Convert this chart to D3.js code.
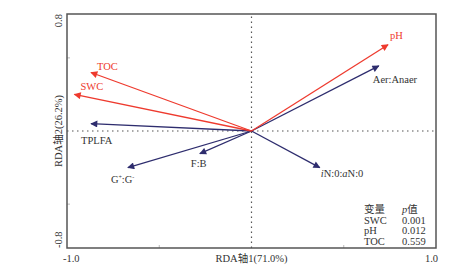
<!DOCTYPE html>
<html>
<head>
<meta charset="utf-8">
<script src="https://cdn.jsdelivr.net/npm/d3@7"></script>
<style>
  body { margin: 0; background: #fff; }
</style>
</head>
<body>
<div id="chart"></div>
<script>
// environment variables (red) and microbial indices (navy)
const envNames = ["pH", "TOC", "SWC"];
const envX = [0.74, -0.87, -0.96];
const envY = [0.59, 0.40, 0.25];

const bioNames = ["Aer:Anaer", "TPLFA", "G+:G-", "F:B", "iN:0:aN:0"];
const bioX = [0.69, -0.87, -0.67, -0.28, 0.37];
const bioY = [0.445, 0.05, -0.25, -0.155, -0.25];

const xTicks = [-0.5, 0.5];
const yTicks = [-0.5, 0.5];

const legendVars = ["SWC", "pH", "TOC"];
const legendP = ["0.001", "0.012", "0.559"];

const RED = "#ee3a2e";
const NAVY = "#2e2d6e";
const FONT = "'Liberation Serif', 'DejaVu Serif', 'Noto Sans CJK SC', serif";

var width = 449, height = 271;
var margin = { top: 14, right: 13, bottom: 23, left: 67 };

var svg = d3.select("#chart").append("svg")
  .attr("width", width)
  .attr("height", height)
  .style("font-family", FONT);

var x = d3.scaleLinear().domain([-1, 1]).range([margin.left, width - margin.right]);
var y = d3.scaleLinear().domain([-0.8, 0.8]).range([height - margin.bottom, margin.top]);

var defs = svg.append("defs");
function addMarker(id, color) {
  defs.append("marker")
    .attr("id", id)
    .attr("viewBox", "0 0 10 10")
    .attr("refX", 9)
    .attr("refY", 5)
    .attr("markerWidth", 9)
    .attr("markerHeight", 7)
    .attr("markerUnits", "userSpaceOnUse")
    .attr("orient", "auto")
    .append("path")
    .attr("d", "M0,0 L10,5 L0,10 Z")
    .attr("fill", color);
}
addMarker("arr-red", RED);
addMarker("arr-navy", NAVY);

// inner ticks
var tickG = svg.append("g").attr("stroke", "#bbb").attr("stroke-width", 1);
tickG.selectAll("line.xt").data(xTicks).enter().append("line")
  .attr("x1", d => x(d)).attr("x2", d => x(d))
  .attr("y1", y(-0.8)).attr("y2", y(-0.8) - 3);
tickG.selectAll("line.yt").data(yTicks).enter().append("line")
  .attr("x1", x(-1)).attr("x2", x(-1) + 3)
  .attr("y1", d => y(d)).attr("y2", d => y(d));

// dotted zero lines
svg.append("line")
  .attr("x1", x(-1)).attr("x2", x(1))
  .attr("y1", y(0)).attr("y2", y(0))
  .attr("stroke", "#555").attr("stroke-width", 1.2)
  .attr("stroke-dasharray", "1.5,3.5");
svg.append("line")
  .attr("x1", x(0)).attr("x2", x(0))
  .attr("y1", y(-0.8)).attr("y2", y(0.8))
  .attr("stroke", "#555").attr("stroke-width", 1.2)
  .attr("stroke-dasharray", "1.5,3.5");

// arrows
svg.selectAll("line.bio").data(bioNames).enter().append("line")
  .attr("x1", x(0)).attr("y1", y(0))
  .attr("x2", (d, i) => x(bioX[i])).attr("y2", (d, i) => y(bioY[i]))
  .attr("stroke", NAVY).attr("stroke-width", 1.3)
  .attr("marker-end", "url(#arr-navy)");
svg.selectAll("line.env").data(envNames).enter().append("line")
  .attr("x1", x(0)).attr("y1", y(0))
  .attr("x2", (d, i) => x(envX[i])).attr("y2", (d, i) => y(envY[i]))
  .attr("stroke", RED).attr("stroke-width", 1.3)
  .attr("marker-end", "url(#arr-red)");

// labels (offsets from arrow tips)
var envOff = { "pH": [2, -6], "TOC": [6, -3], "SWC": [6, -4] };
svg.selectAll("text.env").data(envNames).enter().append("text")
  .attr("x", (d, i) => x(envX[i]) + envOff[d][0])
  .attr("y", (d, i) => y(envY[i]) + envOff[d][1])
  .attr("font-size", 10.5).attr("fill", RED)
  .text(d => d);

var bioOff = { "Aer:Anaer": [-6, 17], "TPLFA": [-10, 20], "G+:G-": [-17, 15], "F:B": [-9, 13], "iN:0:aN:0": [1, 9] };
var bioText = svg.selectAll("text.bio").data(bioNames).enter().append("text")
  .attr("x", (d, i) => x(bioX[i]) + bioOff[d][0])
  .attr("y", (d, i) => y(bioY[i]) + bioOff[d][1])
  .attr("font-size", 10.5).attr("fill", "#333");
bioText.each(function (d) {
  var t = d3.select(this);
  if (d === "G+:G-") {
    t.append("tspan").text("G");
    t.append("tspan").attr("font-size", 6).attr("dy", -4).text("+");
    t.append("tspan").attr("dy", 4).text(":G");
    t.append("tspan").attr("font-size", 6).attr("dy", -4).text("-");
  } else if (d === "iN:0:aN:0") {
    t.append("tspan").attr("font-style", "italic").text("i");
    t.append("tspan").text("N:0:");
    t.append("tspan").attr("font-style", "italic").text("a");
    t.append("tspan").text("N:0");
  } else {
    t.text(d);
  }
});

// frame
svg.append("rect")
  .attr("x", x(-1)).attr("y", y(0.8))
  .attr("width", x(1) - x(-1)).attr("height", y(-0.8) - y(0.8))
  .attr("fill", "none").attr("stroke", "#555").attr("stroke-width", 1.5);

// axis labels
var axisCol = "#333";
svg.append("text").attr("x", x(-1) - 4).attr("y", height - 9)
  .attr("font-size", 10.5).attr("fill", axisCol).text("-1.0");
svg.append("text").attr("x", x(1) + 2).attr("y", height - 9)
  .attr("text-anchor", "end").attr("font-size", 10.5).attr("fill", axisCol).text("1.0");
svg.append("text").attr("x", x(0)).attr("y", height - 9)
  .attr("text-anchor", "middle").attr("font-size", 10.5).attr("fill", axisCol).text("RDA轴1(71.0%)");

var yl = x(-1) - 5;
svg.append("text").attr("transform", `translate(${yl},${y(0.8)}) rotate(-90)`)
  .attr("text-anchor", "end").attr("font-size", 10.5).attr("fill", axisCol).text("0.8");
svg.append("text").attr("transform", `translate(${yl},${y(-0.8)}) rotate(-90)`)
  .attr("text-anchor", "start").attr("font-size", 10.5).attr("fill", axisCol).text("-0.8");
svg.append("text").attr("transform", `translate(${yl},${y(0)}) rotate(-90)`)
  .attr("text-anchor", "middle").attr("font-size", 10.5).attr("fill", axisCol).text("RDA轴2(26.2%)");

// significance table
var lg = svg.append("g").attr("font-size", 10.5).attr("fill", "#333");
var lx1 = 364, lx2 = 402, ly0 = 213, lstep = 10.7;
lg.append("text").attr("x", lx1).attr("y", ly0).text("变量");
var ph = lg.append("text").attr("x", lx2).attr("y", ly0);
ph.append("tspan").attr("font-style", "italic").text("p");
ph.append("tspan").text("值");
lg.selectAll("text.v").data(legendVars).enter().append("text")
  .attr("x", lx1).attr("y", (d, i) => ly0 + lstep * (i + 1)).text(d => d);
lg.selectAll("text.p").data(legendP).enter().append("text")
  .attr("x", lx2).attr("y", (d, i) => ly0 + lstep * (i + 1)).text(d => d);
</script>
</body>
</html>
